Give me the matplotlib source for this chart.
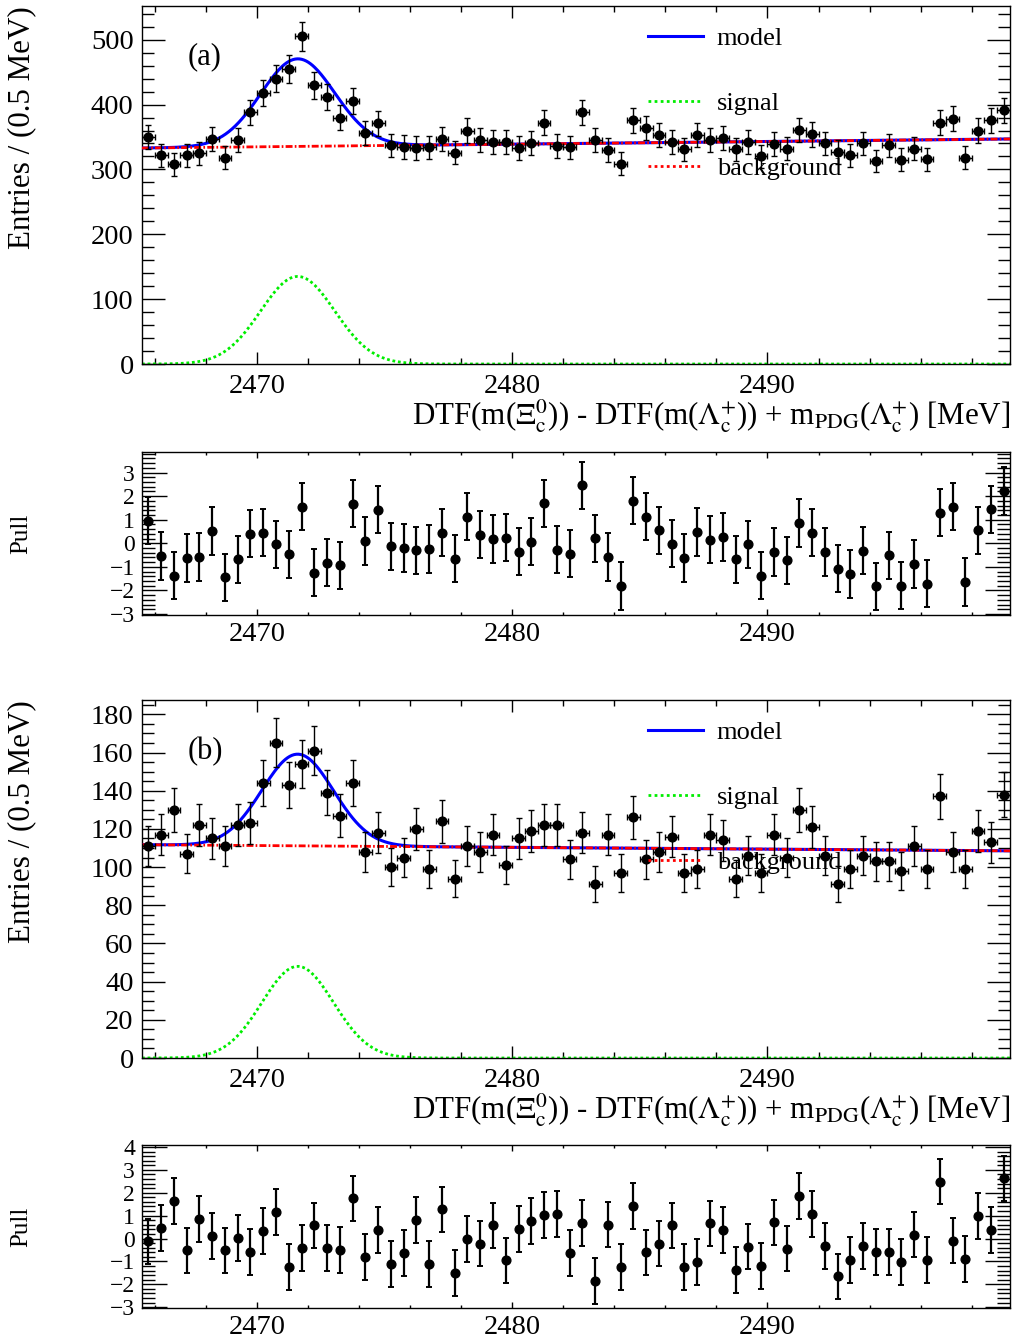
import numpy as np
import matplotlib
matplotlib.use("Agg")
import matplotlib.pyplot as plt
from matplotlib.lines import Line2D
from matplotlib.ticker import MultipleLocator

plt.rcParams['font.family'] = ['Liberation Serif', 'DejaVu Serif']
plt.rcParams['mathtext.fontset'] = 'stix'

# ---------------- data ----------------
x_min, x_max, bin_width = 2465.5, 2499.5, 0.5

counts_a = [350, 322, 308, 322, 325, 347, 318, 346, 388, 418,
            440, 455, 505, 430, 412, 380, 405, 356, 371, 337,
            335, 333, 334, 347, 326, 360, 346, 342, 342, 333,
            341, 372, 336, 334, 388, 346, 330, 309, 376, 364,
            353, 343, 331, 353, 346, 349, 331, 343, 320, 339,
            332, 361, 354, 340, 327, 322, 340, 313, 337, 315,
            332, 316, 372, 378, 318, 360, 376, 391]

pull_a = [0.95, -0.54, -1.38, -0.62, -0.58, 0.52, -1.45, -0.68, 0.41, 0.44,
          -0.04, -0.47, 1.55, -1.24, -0.82, -0.93, 1.67, 0.10, 1.43, -0.13,
          -0.20, -0.30, -0.24, 0.44, -0.66, 1.13, 0.37, 0.18, 0.23, -0.35,
          0.07, 1.69, -0.27, -0.44, 2.46, 0.21, -0.58, -1.81, 1.81, 1.13,
          0.55, -0.01, -0.62, 0.48, 0.16, 0.27, -0.68, -0.04, -1.38, -0.37,
          -0.72, 0.86, 0.45, -0.37, -1.07, -1.30, -0.32, -1.82, -0.51, -1.79,
          -0.88, -1.71, 1.29, 1.55, -1.64, 0.55, 1.44, 2.22]

counts_b = [111, 117, 130, 107, 122, 115, 111, 122, 123, 144,
            165, 143, 154, 161, 139, 127, 144, 108, 118, 100,
            105, 120, 99, 124, 94, 111, 108, 117, 101, 115,
            119, 122, 122, 104, 118, 91, 117, 97, 126, 104,
            108, 116, 97, 99, 117, 114, 94, 106, 97, 117,
            105, 130, 121, 106, 91, 99, 106, 103, 103, 98,
            111, 99, 137, 108, 99, 119, 113, 138]

pull_b = [-0.13, 0.45, 1.63, -0.52, 0.86, 0.10, -0.52, 0.01, -0.58, 0.33,
          1.15, -1.24, -0.42, 0.57, -0.42, -0.49, 1.75, -0.80, 0.38, -1.11,
          -0.64, 0.82, -1.12, 1.27, -1.50, -0.03, -0.22, 0.57, -0.96, 0.41,
          0.76, 1.03, 1.08, -0.64, 0.68, -1.85, 0.61, -1.24, 1.43, -0.61,
          -0.22, 0.57, -1.24, -1.03, 0.66, 0.38, -1.38, -0.35, -1.19, 0.70,
          -0.44, 1.86, 1.08, -0.32, -1.66, -0.95, -0.32, -0.60, -0.60, -1.03,
          0.17, -0.95, 2.49, -0.09, -0.90, 0.99, 0.38, 2.63]

# fit model parameters (per 0.5 MeV bin)
sig_mean_a, sig_sigma_a, sig_amp_a = 2471.6, 1.45, 135.0
bkg_left_a, bkg_right_a = 333.0, 347.0
sig_mean_b, sig_sigma_b, sig_amp_b = 2471.6, 1.40, 48.0
bkg_left_b, bkg_right_b = 111.7, 108.5

ylim_a = (0, 552)
ylim_b = (0, 187.5)
pull_ylim_a = (-3.04, 3.87)
pull_ylim_b = (-3.04, 4.09)

xlabel = (r'DTF(m($\mathrm{\Xi_{c}^{0}}$)) - DTF(m($\mathrm{\Lambda_{c}^{+}}$)) + '
          r'm$_{\mathrm{PDG}}$($\mathrm{\Lambda_{c}^{+}}$) [MeV]')

# ---------------- figure ----------------
W, H = 1016, 1343
fig = plt.figure(figsize=(W / 100, H / 100), dpi=100)


def rect(top, bottom, left=142, right=1010):
    return [left / W, 1 - bottom / H, (right - left) / W, (bottom - top) / H]


FS = 20.5
LABFS = 22.3
edges = np.arange(x_min, x_max + bin_width / 2, bin_width)
centers = 0.5 * (edges[:-1] + edges[1:])
xs = np.linspace(x_min, x_max, 800)

RED_DASH = (0, (2.5, 0.8, 0.6, 0.8))


def main_panel(ax, counts, mean, sigma, amp, bl, br, ylim, ymajor, yminor, tag):
    counts = np.asarray(counts, float)
    bkg = bl + (br - bl) * (xs - x_min) / (x_max - x_min)
    sig = amp * np.exp(-0.5 * ((xs - mean) / sigma) ** 2)
    ax.plot(xs, sig, color='#00ee00', lw=2.0, ls=(0, (1, 1)), zorder=2)
    ax.plot(xs, sig + bkg, color='#0000ff', lw=2.2, zorder=3)
    ax.plot(xs, bkg, color='red', lw=2.0, ls=RED_DASH, zorder=3.5)
    ax.errorbar(centers, counts, yerr=np.sqrt(counts), xerr=bin_width / 2,
                fmt='o', color='black', ms=6.3, elinewidth=1.0, capsize=2.0,
                capthick=1.0, zorder=4)
    ax.set_xlim(x_min, x_max)
    ax.set_ylim(*ylim)
    ax.xaxis.set_major_locator(MultipleLocator(10))
    ax.xaxis.set_minor_locator(MultipleLocator(2))
    ax.yaxis.set_major_locator(MultipleLocator(ymajor))
    ax.yaxis.set_minor_locator(MultipleLocator(yminor))
    ax.tick_params(which='both', direction='in', top=True, right=True,
                   labelsize=FS, width=1.0)
    ax.tick_params(axis='x', which='major', length=8.6, pad=7)
    ax.tick_params(axis='x', which='minor', length=4.3)
    ax.tick_params(axis='y', which='major', length=16.5, pad=6)
    ax.tick_params(axis='y', which='minor', length=8.6)
    for s in ax.spines.values():
        s.set_linewidth(1.0)
    ax.set_ylabel('Entries / (0.5 MeV)', fontsize=LABFS, loc='top')
    ax.yaxis.set_label_coords(-0.122, 1.0)
    ax.set_xlabel(xlabel, fontsize=LABFS, loc='right')
    ax.xaxis.set_label_coords(1.0, -0.092)
    ax.text(0.053, 0.857, tag, transform=ax.transAxes, fontsize=22,
            va='center', ha='left')
    handles = [Line2D([], [], color='#0000ff', lw=2.2),
               Line2D([], [], color='#00ee00', lw=2.0, ls=(0, (1, 1.2))),
               Line2D([], [], color='red', lw=2.0, ls=(0, (1, 1.2)))]
    ax.legend(handles, ['model', 'signal', 'background'], loc='upper left',
              bbox_to_anchor=(0.583, 0.943), frameon=False, fontsize=19,
              handlelength=2.1, handletextpad=0.5, labelspacing=1.58,
              borderaxespad=0, borderpad=0)


def pull_panel(ax, pulls, ylim):
    pulls = np.asarray(pulls, float)
    ax.errorbar(centers, pulls, yerr=np.ones_like(pulls), fmt='o',
                color='black', ms=6.3, elinewidth=1.6, capsize=2.2,
                capthick=1.4, zorder=4)
    ax.set_xlim(x_min, x_max)
    ax.set_ylim(*ylim)
    ax.xaxis.set_major_locator(MultipleLocator(10))
    ax.xaxis.set_minor_locator(MultipleLocator(2))
    ax.yaxis.set_major_locator(MultipleLocator(1))
    ax.yaxis.set_minor_locator(MultipleLocator(0.2))
    ax.tick_params(which='both', direction='in', top=True, right=True,
                   width=1.0)
    ax.tick_params(axis='x', which='major', length=4.3, pad=5, labelsize=FS)
    ax.tick_params(axis='x', which='minor', length=2.2)
    ax.tick_params(axis='y', which='major', length=18, pad=5, labelsize=17)
    ax.tick_params(axis='y', which='minor', length=9.4)
    for s in ax.spines.values():
        s.set_linewidth(1.0)
    ax.set_ylabel('Pull', fontsize=18)
    ax.yaxis.set_label_coords(-0.126, 0.5)


ax_a = fig.add_axes(rect(6, 364))
main_panel(ax_a, counts_a, sig_mean_a, sig_sigma_a, sig_amp_a,
           bkg_left_a, bkg_right_a, ylim_a, 100, 20, '(a)')
ax_pa = fig.add_axes(rect(452, 615))
pull_panel(ax_pa, pull_a, pull_ylim_a)

ax_b = fig.add_axes(rect(700, 1058))
main_panel(ax_b, counts_b, sig_mean_b, sig_sigma_b, sig_amp_b,
           bkg_left_b, bkg_right_b, ylim_b, 20, 5, '(b)')
ax_pb = fig.add_axes(rect(1145, 1308))
pull_panel(ax_pb, pull_b, pull_ylim_b)

fig.savefig('out.png', dpi=100)
